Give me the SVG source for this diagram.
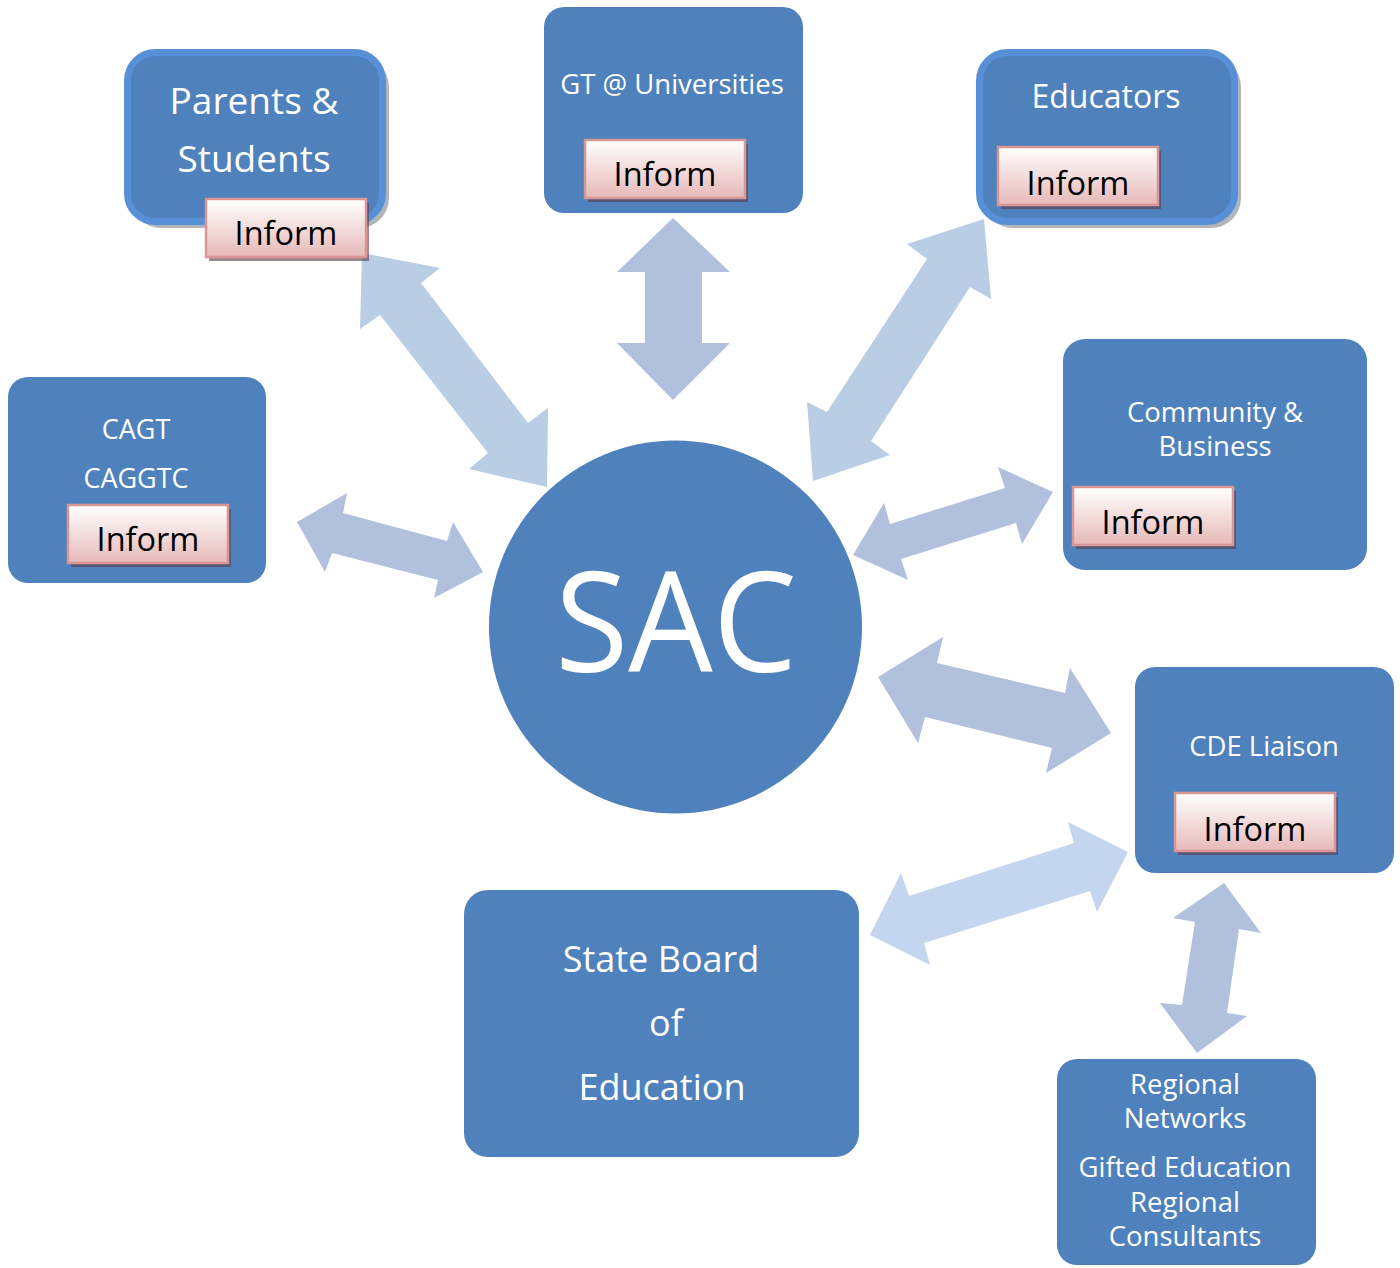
<svg xmlns="http://www.w3.org/2000/svg" width="1400" height="1268" viewBox="0 0 1400 1268">
<defs>
<linearGradient id="pink" x1="0" y1="0" x2="0" y2="1">
<stop offset="0" stop-color="#ffffff"/>
<stop offset="1" stop-color="#e6b9b8"/>
</linearGradient>
<style>
.box{fill:#4f81bd;}
.bev{fill:#4f81bd;stroke:#5890d8;stroke-width:7;}
.bshadow{fill:#8e959e;opacity:0.7;}
.inf{fill:url(#pink);stroke:#d99694;stroke-width:2.5;}
.infs{fill:#5a3a4a;opacity:0.6;}
.t{font-family:"Open Sans","Noto Sans",sans-serif;fill:#ffffff;text-anchor:middle;}
.it{font-family:"Open Sans","Noto Sans",sans-serif;fill:#000000;text-anchor:middle;font-size:32.5px;}
.a1{fill:#b9cde5;}
.a2{fill:#b0c0dd;}
.a3{fill:#c4d5ef;}
</style>
</defs>
<rect width="1400" height="1268" fill="#ffffff"/>
<g id="connectors">
<polygon class="a1" points="362,253 440,268 421,283 528,423 548,408 547,487 469,469 488,453 380,315 360,329"/>
<polygon class="a2" points="673,218 730,272 702,272 702,343 730,343 673,400 617,343 645,343 645,272 617,272"/>
<polygon class="a1" points="984,219 991,299 970,287 871,441 890,455 813,481 807,402 827,412 927,259 907,244"/>
<polygon class="a2" points="297,522 347,493 343,513 447,541 453,522 483,572 434,598 438,580 332,553 325,572"/>
<polygon class="a2" points="853,555 884,503 890,524 1005,488 998,467 1053,492 1022,544 1016,523 901,559 908,580"/>
<polygon class="a2" points="878,677 943,637 937,663 1065,693 1070,668 1111,733 1046,773 1052,748 925,717 918,743"/>
<polygon class="a3" points="870,935 901,873 909,896 1074,843 1068,822 1128,852 1097,912 1090,891 924,943 930,965"/>
<polygon class="a2" points="1224,883 1261,933 1239,929 1227,1013 1247,1016 1197,1053 1160,1003 1182,1005 1195,922 1173,918"/>
</g>
<g id="sac">
<circle cx="675.5" cy="627" r="186.5" class="box"/>
<text class="t" x="676" y="672" font-size="140" textLength="242" lengthAdjust="spacingAndGlyphs">SAC</text>
</g>
<g id="parents">
<rect class="bshadow" x="131" y="57" width="258" height="171" rx="30"/>
<rect class="bev" x="127.5" y="52.5" width="255" height="169" rx="28"/>
<text class="t" x="254" y="114" font-size="37">Parents &amp;</text>
<text class="t" x="254" y="172" font-size="37">Students</text>
<rect class="infs" x="209" y="203" width="160" height="58"/>
<rect class="inf" x="206" y="199" width="160" height="58"/>
<text class="it" x="286" y="245">Inform</text>
</g>
<g id="gt">
<rect class="box" x="544" y="7" width="259" height="206" rx="20"/>
<text class="t" x="672" y="94" font-size="27.5">GT @ Universities</text>
<rect class="infs" x="588" y="144" width="160" height="58"/>
<rect class="inf" x="585" y="140" width="160" height="58"/>
<text class="it" x="665" y="186">Inform</text>
</g>
<g id="educators">
<rect class="bshadow" x="983" y="57" width="258" height="171" rx="30"/>
<rect class="bev" x="979.5" y="52.5" width="255" height="169" rx="28"/>
<text class="t" x="1106" y="108" font-size="32">Educators</text>
<rect class="infs" x="1001" y="151" width="160" height="58"/>
<rect class="inf" x="998" y="147" width="160" height="58"/>
<text class="it" x="1078" y="195">Inform</text>
</g>
<g id="cagt">
<rect class="box" x="8" y="377" width="258" height="206" rx="20"/>
<text class="t" x="136" y="439" font-size="27">CAGT</text>
<text class="t" x="136" y="488" font-size="27">CAGGTC</text>
<rect class="infs" x="71" y="509" width="160" height="58"/>
<rect class="inf" x="68" y="505" width="160" height="58"/>
<text class="it" x="148" y="551">Inform</text>
</g>
<g id="community">
<rect class="box" x="1063" y="339" width="304" height="231" rx="22"/>
<text class="t" x="1215" y="422" font-size="27.5">Community &amp;</text>
<text class="t" x="1215" y="456" font-size="27.5">Business</text>
<rect class="infs" x="1076" y="491" width="160" height="58"/>
<rect class="inf" x="1073" y="487" width="160" height="58"/>
<text class="it" x="1153" y="534">Inform</text>
</g>
<g id="cde">
<rect class="box" x="1135" y="667" width="259" height="206" rx="20"/>
<text class="t" x="1264" y="756" font-size="27.5">CDE Liaison</text>
<rect class="infs" x="1178" y="797" width="160" height="58"/>
<rect class="inf" x="1175" y="793" width="160" height="58"/>
<text class="it" x="1255" y="841">Inform</text>
</g>
<g id="stateboard">
<rect class="box" x="464" y="890" width="395" height="267" rx="24"/>
<text class="t" x="661" y="972" font-size="36">State Board</text>
<text class="t" x="666" y="1036" font-size="36">of</text>
<text class="t" x="662" y="1100" font-size="36">Education</text>
</g>
<g id="regional">
<rect class="box" x="1057" y="1059" width="259" height="206" rx="20"/>
<text class="t" x="1185" y="1094" font-size="27.5">Regional</text>
<text class="t" x="1185" y="1128" font-size="27.5">Networks</text>
<text class="t" x="1185" y="1177" font-size="27.5">Gifted Education</text>
<text class="t" x="1185" y="1212" font-size="27.5">Regional</text>
<text class="t" x="1185" y="1246" font-size="27.5">Consultants</text>
</g>
</svg>
